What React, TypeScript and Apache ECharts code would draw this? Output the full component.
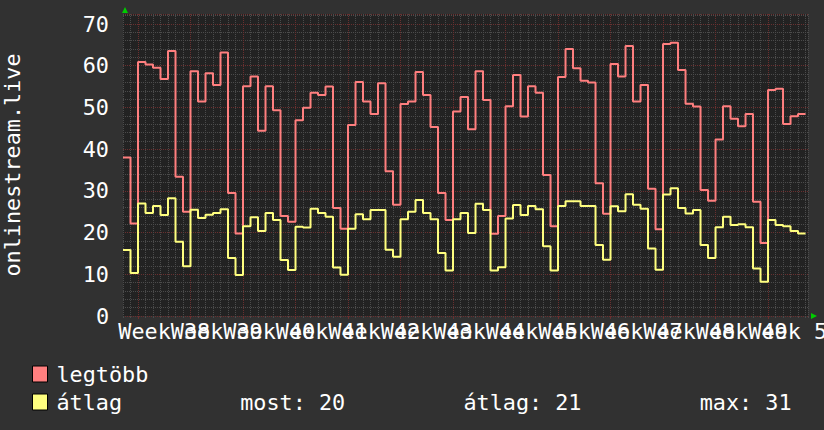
import React, { useEffect, useRef } from "react";
import * as echarts from "echarts";

// daily values, one per day from the left edge of the plot
const maxValues = [
  38.0, 22.2, 60.9, 60.3, 59.5, 56.8, 63.5, 33.4, 25.0, 58.7,
  51.4, 58.2, 55.4, 63.2, 29.5, 19.8, 55.1, 57.4, 44.4, 55.1,
  49.3, 24.0, 22.6, 46.9, 49.9, 53.5, 53.0, 55.0, 25.9, 20.9,
  45.8, 56.1, 51.4, 48.4, 55.8, 34.7, 26.7, 50.8, 51.4, 58.5,
  53.0, 45.3, 29.5, 23.0, 49.0, 52.5, 44.8, 58.7, 51.8, 19.7,
  24.0, 50.3, 57.8, 47.8, 55.1, 53.5, 33.8, 21.5, 57.3, 64.0,
  59.4, 56.4, 56.0, 31.8, 24.5, 60.4, 57.4, 64.7, 51.4, 55.4,
  30.5, 20.8, 65.2, 65.5, 59.0, 50.9, 50.2, 30.2, 27.6, 42.3,
  50.3, 47.3, 45.5, 48.4, 27.4, 17.5, 54.2, 54.5, 46.0, 47.9,
  48.4,
];

const avgValues = [
  15.8, 10.3, 27.0, 24.7, 26.4, 24.2, 28.2, 17.8, 11.9, 25.5,
  23.5, 24.3, 24.7, 25.6, 13.9, 9.8, 21.5, 23.7, 20.4, 24.7,
  23.0, 13.4, 11.0, 21.4, 21.2, 25.7, 24.7, 23.8, 11.6, 9.9,
  20.9, 24.4, 23.2, 25.4, 25.4, 15.9, 14.2, 23.2, 25.0, 27.8,
  24.7, 23.2, 15.1, 10.9, 23.2, 24.7, 19.9, 26.9, 25.4, 10.9,
  11.7, 23.4, 26.6, 24.2, 26.4, 25.6, 16.7, 10.9, 26.4, 27.5,
  27.5, 26.4, 26.4, 17.0, 13.5, 26.3, 25.1, 29.2, 26.7, 25.7,
  16.2, 11.1, 29.1, 30.6, 25.9, 24.6, 25.4, 17.0, 13.9, 21.3,
  23.8, 21.8, 22.0, 21.3, 11.4, 8.2, 23.0, 21.8, 21.5, 20.4,
  19.8,
];

const weekNumbers = [38, 39, 40, 41, 42, 43, 44, 45, 46, 47, 48, 49, 50];
const firstWeekStart = 2; // day offset of the first week boundary
const xMax = 91.33; // days visible in the plot
const yMax = 72.4;
const yLabelStep = 10;
const yMinorStep = 2;

const seriesNames = ["legtöbb", "átlag"];
const statLabels = ["most", "átlag", "max"];

const MONO = "'DejaVu Sans Mono', monospace";
const FS = 21.8;
const CH = FS * 0.6021; // monospace advance
const BACK = "#313131";
const CANVAS = "#222222";
const MINOR = "#4b4b4b";
const MAJOR = "#6a2f2f";
const RED = "#ff7f7f";
const YELLOW = "#ffff7f";
const ARROW = "#00cc00";

const GRID = { left: 123, top: 14, width: 685, height: 302 };

function toSteps(values: number[]) {
  const pts = values.map((v, i) => [i, v]);
  pts.push([values.length, values[values.length - 1]]);
  return pts;
}

export default function App() {
  const ref = useRef<HTMLDivElement>(null);

  useEffect(() => {
    document.body.style.margin = "0";
    if (!ref.current) return;
    const chart = echarts.init(ref.current, null, { renderer: "svg" });

    const weekStarts = weekNumbers.map((_, i) => firstWeekStart + 7 * i);
    const labelPos = weekNumbers.map((_, i) => firstWeekStart + 3.5 + 7 * i);
    const evenPos = labelPos.filter((_, i) => i % 2 === 0);
    const oddPos = labelPos.filter((_, i) => i % 2 === 1);
    const weekLabel = (v: number) => {
      const i = Math.round((v - firstWeekStart - 3.5) / 7);
      return `Week ${weekNumbers[i]}`;
    };

    const last = avgValues[avgValues.length - 1];
    const mean = avgValues.reduce((a, b) => a + b, 0) / avgValues.length;
    const peak = Math.max(...avgValues);
    const statValues = [last, mean, peak].map((v) => Math.round(v));

    const gr = GRID.left + GRID.width;
    const gb = GRID.top + GRID.height;

    const legendRich = (w?: number) => ({
      ...(w ? { width: w } : {}),
      color: "#fff",
      fontFamily: MONO,
      fontSize: FS,
    });

    const labelAxis = (positions: number[], withGrid: boolean) => ({
      type: "value",
      min: 0,
      max: xMax,
      position: "bottom",
      axisLine: { show: false },
      axisTick: withGrid
        ? { show: true, customValues: weekStarts, length: 3, lineStyle: { color: MAJOR } }
        : { show: false },
      axisLabel: {
        show: true,
        customValues: positions,
        showMinLabel: true,
        showMaxLabel: true,
        hideOverlap: false,
        color: "#ffffff",
        fontFamily: MONO,
        fontSize: FS,
        margin: 4,
        formatter: weekLabel,
      },
      splitLine: withGrid
        ? { show: true, lineStyle: { color: MAJOR, type: [1, 1], width: 1 } }
        : { show: false },
    });

    chart.setOption({
      animation: false,
      backgroundColor: BACK,
      textStyle: { fontFamily: MONO },
      grid: {
        ...GRID,
        show: true,
        backgroundColor: CANVAS,
        borderWidth: 0,
        containLabel: false,
        outerBoundsMode: "none",
      },
      legend: {
        data: seriesNames,
        orient: "vertical",
        left: 32,
        top: 363,
        padding: 0,
        icon: "rect",
        itemWidth: 15,
        itemHeight: 16,
        itemGap: 6,
        selectedMode: false,
        itemStyle: { borderColor: "#000", borderWidth: 1 },
        textStyle: {
          color: "#ffffff",
          fontFamily: MONO,
          fontSize: FS,
          padding: [0, 0, 0, 4],
          rich: {
            a: legendRich(14 * CH),
            b: legendRich(17 * CH),
            c: legendRich(18 * CH),
            d: legendRich(),
          },
        },
        formatter: (name: string) => {
          if (name !== seriesNames[1]) return name;
          return (
            `{a|${name}}` +
            `{b|${statLabels[0]}: ${statValues[0]}}` +
            `{c|${statLabels[1]}: ${statValues[1]}}` +
            `{d|${statLabels[2]}: ${statValues[2]}}`
          );
        },
      },
      xAxis: [
        {
          type: "value",
          min: 0,
          max: xMax,
          interval: 1,
          position: "bottom",
          axisLine: { show: false },
          axisLabel: { show: false },
          axisTick: { show: true, length: 2, lineStyle: { color: MINOR } },
          splitLine: { show: true, lineStyle: { color: MINOR, type: [1, 1], width: 1 } },
        },
        labelAxis(evenPos, true),
        labelAxis(oddPos, false),
      ],
      yAxis: [
        {
          type: "value",
          min: 0,
          max: yMax,
          interval: yMinorStep,
          position: "left",
          axisLine: { show: false },
          axisLabel: { show: false },
          axisTick: { show: false },
          splitLine: { show: true, lineStyle: { color: MINOR, type: [1, 1], width: 1 } },
        },
        {
          type: "value",
          min: 0,
          max: yMax,
          interval: yLabelStep,
          position: "left",
          axisLine: { show: false },
          axisTick: { show: false },
          axisLabel: {
            color: "#ffffff",
            fontFamily: MONO,
            fontSize: FS,
            margin: 14,
            formatter: (v: number) => (v % yLabelStep === 0 ? String(v) : ""),
          },
          splitLine: { show: true, lineStyle: { color: MAJOR, type: [1, 1], width: 1 } },
          name: "onlinestream.live",
          nameLocation: "middle",
          nameRotate: 90,
          nameGap: 100,
          nameTextStyle: { color: "#ffffff", fontFamily: MONO, fontSize: FS },
        },
      ],
      series: [
        {
          name: seriesNames[0],
          type: "line",
          step: "end",
          data: toSteps(maxValues),
          showSymbol: false,
          silent: true,
          color: RED,
          lineStyle: { color: RED, width: 2 },
          xAxisIndex: 0,
          yAxisIndex: 0,
        },
        {
          name: seriesNames[1],
          type: "line",
          step: "end",
          data: toSteps(avgValues),
          showSymbol: false,
          silent: true,
          color: YELLOW,
          lineStyle: { color: YELLOW, width: 2 },
          xAxisIndex: 0,
          yAxisIndex: 0,
        },
      ],
      graphic: [
        {
          type: "polygon",
          silent: true,
          shape: {
            points: [
              [GRID.left - 1, GRID.top - 1],
              [GRID.left + 5, GRID.top - 1],
              [GRID.left + 2, GRID.top - 7],
            ],
          },
          style: { fill: ARROW },
        },
        {
          type: "polygon",
          silent: true,
          shape: {
            points: [
              [gr + 3, gb - 3],
              [gr + 3, gb + 3],
              [gr + 9, gb],
            ],
          },
          style: { fill: ARROW },
        },
      ],
    });

    return () => chart.dispose();
  }, []);

  return <div ref={ref} style={{ width: 824, height: 430 }} />;
}
